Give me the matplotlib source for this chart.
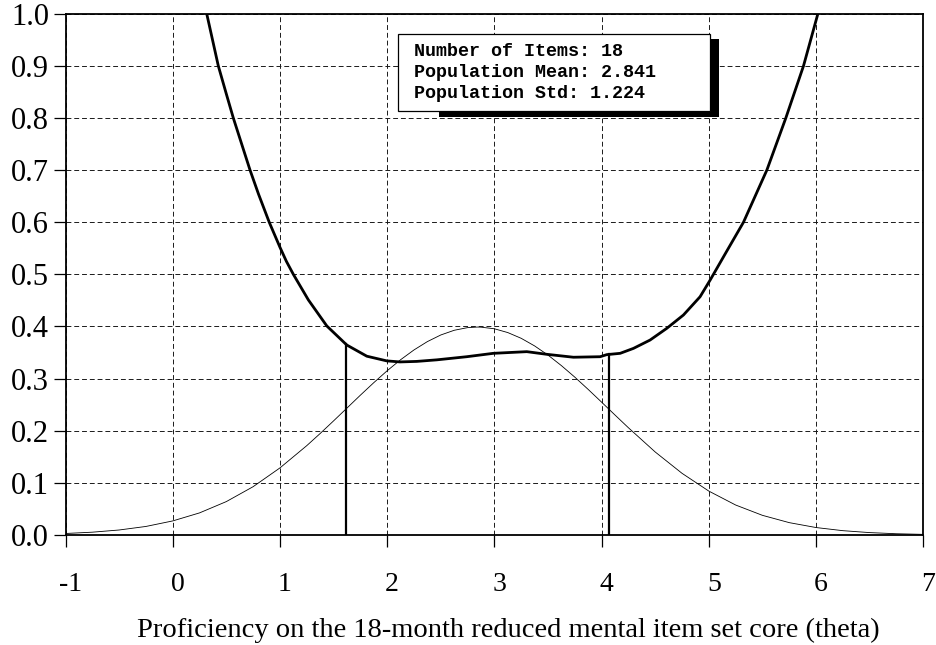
import matplotlib
matplotlib.use("Agg")
import matplotlib.pyplot as plt
import matplotlib.transforms as mtransforms
from matplotlib.patches import Rectangle
import numpy as np

# ---- data -------------------------------------------------------------
n_items = 18
pop_mean = 2.841
pop_std = 1.224

# standard error of measurement curve (thick line)
se_theta = [0.30, 0.317, 0.425, 0.50, 0.565, 0.721, 0.80, 0.90, 1.00, 1.06, 1.125,
            1.265, 1.437, 1.623, 1.81, 1.996, 2.12, 2.276, 2.463, 2.742, 2.99,
            3.302, 3.489, 3.737, 3.986, 4.048, 4.173, 4.297, 4.452, 4.608, 4.763,
            4.918, 5.012, 5.16, 5.323, 5.541, 5.718, 5.883, 6.017, 6.05]
se_value = [1.016, 1.000, 0.900, 0.846, 0.800, 0.700, 0.654, 0.600, 0.552, 0.525, 0.500,
            0.451, 0.401, 0.3645, 0.343, 0.334, 0.332, 0.333, 0.336, 0.342, 0.3485,
            0.3517, 0.3466, 0.341, 0.342, 0.346, 0.3485, 0.358, 0.374, 0.3965, 0.422,
            0.457, 0.489, 0.542, 0.600, 0.700, 0.800, 0.900, 1.000, 1.03]

# population distribution curve (thin line)
dens_theta = [-1.00, -0.75, -0.50, -0.25, 0.00, 0.25, 0.50, 0.75, 1.00, 1.25,
              1.375, 1.50, 1.625, 1.75, 1.875, 2.00, 2.125, 2.25, 2.375, 2.50,
              2.625, 2.75, 2.841, 2.875, 3.00, 3.125, 3.25, 3.375, 3.50, 3.625,
              3.75, 3.875, 4.00, 4.125, 4.25, 4.50, 4.75, 5.00, 5.25, 5.50,
              5.75, 6.00, 6.25, 6.50, 6.75, 7.00]
dens_value = [0.0029, 0.0054, 0.0096, 0.0164, 0.0270, 0.0424, 0.0641, 0.0927, 0.1287, 0.1714,
              0.1947, 0.2189, 0.2435, 0.2682, 0.2922, 0.3151, 0.3362, 0.3550, 0.3710, 0.3837,
              0.3927, 0.3978, 0.3989, 0.3987, 0.3956, 0.3883, 0.3773, 0.3627, 0.3451, 0.3249,
              0.3028, 0.2792, 0.2548, 0.2301, 0.2057, 0.1592, 0.1183, 0.0842, 0.0575, 0.0377,
              0.0237, 0.0143, 0.0083, 0.0046, 0.0024, 0.0012]

x_ticks = [-1, 0, 1, 2, 3, 4, 5, 6, 7]
x_tick_labels = ["-1", "0", "1", "2", "3", "4", "5", "6", "7"]
y_ticks = [0.0, 0.1, 0.2, 0.3, 0.4, 0.5, 0.6, 0.7, 0.8, 0.9, 1.0]
y_tick_labels = ["0.0", "0.1", "0.2", "0.3", "0.4", "0.5", "0.6", "0.7", "0.8", "0.9", "1.0"]
x_label = "Proficiency on the 18-month reduced mental item set core (theta)"

info_lines = ["Number of Items: %d" % n_items,
              "Population Mean: %.3f" % pop_mean,
              "Population Std: %.3f" % pop_std]

# ---- figure -----------------------------------------------------------
W, H = 936, 645
fig = plt.figure(figsize=(W / 100, H / 100), dpi=100)


def fx(px):
    return px / W


def fy(py):
    return 1 - py / H


serif = ["Liberation Serif", "DejaVu Serif"]
mono = ["Liberation Mono", "DejaVu Sans Mono"]

ax = fig.add_axes([fx(65.5), fy(535), fx(923.3) - fx(65.5), fy(13.7) - fy(535)])
ax.set_xlim(-1, 7)
ax.set_ylim(0, 1)

ax.grid(True, color="#1a1a1a", linewidth=0.7, linestyle=(0, (5, 3)))
ax.set_axisbelow(True)
for s in ax.spines.values():
    s.set_linewidth(1.3)
    s.set_color("black")

ax.set_xticks(x_ticks)
ax.set_xticklabels(x_tick_labels, fontsize=20, family=serif)
ax.set_yticks(y_ticks)
ax.set_yticklabels(y_tick_labels, fontsize=22, family=serif)
ax.tick_params(axis="both", direction="out", length=8.6, width=0.9, color="black")
ax.tick_params(axis="x", pad=18)
ax.tick_params(axis="y", pad=3.2)

shift = mtransforms.ScaledTranslation(5 / 100, 0, fig.dpi_scale_trans)
for lbl in ax.get_xticklabels():
    lbl.set_transform(lbl.get_transform() + shift)

# curves
ax.plot(dens_theta, dens_value, color="black", linewidth=0.6, zorder=3)
ax.plot(se_theta, se_value, color="black", linewidth=2.0, zorder=4,
        solid_joinstyle="round")

# mean +/- one standard deviation markers, up to the SE curve
for xv in (pop_mean - pop_std, pop_mean + pop_std):
    top = np.interp(xv, se_theta, se_value)
    ax.plot([xv, xv], [0, top], color="black", linewidth=1.6, zorder=4)

# x axis title
fig.text(fx(508), fy(637), x_label, fontsize=20.5, family=serif,
         ha="center", va="baseline")

# info box with drop shadow
shadow = Rectangle((fx(439.3), fy(117.3)), fx(719) - fx(439.3), fy(39) - fy(117.3),
                   transform=fig.transFigure, facecolor="black", edgecolor="none",
                   zorder=10)
box = Rectangle((fx(398.3), fy(110.7)), fx(710) - fx(398.3), fy(34) - fy(110.7),
                transform=fig.transFigure, facecolor="white", edgecolor="black",
                linewidth=0.9, zorder=11)
fig.patches.extend([shadow, box])
for i, line in enumerate(info_lines):
    fig.text(fx(414), fy(51 + 21.5 * i), line, fontsize=13.2, family=mono,
             fontweight="bold", ha="left", va="center", zorder=12)

fig.savefig("out.png", dpi=100)
